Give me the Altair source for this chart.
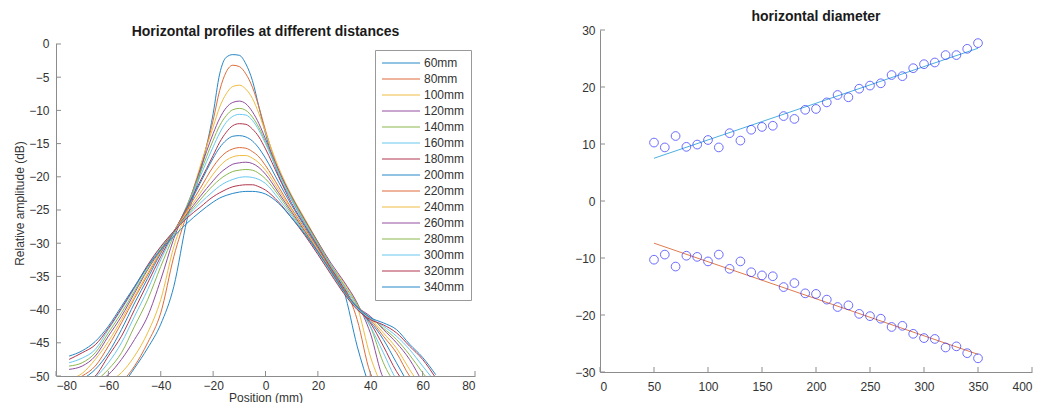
import altair as alt
import pandas as pd

# ---------------- data: left panel (horizontal profiles) ----------------
series_names = ["60mm", "80mm", "100mm", "120mm", "140mm", "160mm", "180mm", "200mm",
                "220mm", "240mm", "260mm", "280mm", "300mm", "320mm", "340mm"]

positions = [-75, -70, -65, -60, -55, -50, -45, -40, -35, -30, -25, -20, -17.5, -15, -12.5,
             -10, -7.5, -5, -2.5, 0, 5, 10, 15, 20, 25, 30, 35, 40, 45, 50, 55, 60, 65]

c60 = [None, None, None, -53, -51.5, -48.8, -45.8, -42.2, -36.5, -26.5, -19.5, -10.5, -4.5, -2.0, -1.6,
       -1.7, -3.0, -5.5, -9.5, -13.5, -19.8, -23.5, -27.0, -30.3, -33.5, -37.3, -45.5, -52, None, None, None, None, None]
c80 = [None, None, None, -53, -51.0, -48.5, -45.0, -40.5, -32.0, -25.5, -18.8, -11.5, -7.0, -4.2, -3.2,
       -3.4, -4.5, -6.5, -9.5, -13.0, -19.0, -23.0, -26.5, -30.0, -33.8, -36.5, -41.5, -49.5, -52, None, None, None, None]
c100 = [None, None, -53, -51.0, -49.5, -47.0, -43.5, -38.5, -30.5, -25.0, -18.5, -12.5, -9.5, -7.5, -6.4,
        -6.2, -6.8, -8.2, -10.5, -13.3, -18.6, -22.8, -26.3, -29.8, -33.3, -36.0, -39.5, -47.0, -52, None, None, None, None]
c120 = [None, -52.5, -51.0, -49.8, -47.5, -44.5, -41.0, -35.5, -29.3, -24.5, -19.0, -13.5, -11.2, -9.6, -8.8,
        -8.6, -9.0, -10.2, -12.0, -14.3, -19.0, -23.0, -26.5, -29.8, -33.0, -35.8, -39.0, -43.5, -50.3, -52, None, None, None]
c140 = [None, -52.0, -50.8, -49.0, -46.5, -42.5, -38.5, -33.5, -28.8, -24.3, -19.5, -14.5, -12.3, -10.8, -9.9,
        -9.7, -10.0, -11.0, -12.6, -14.7, -19.3, -23.2, -26.7, -30.0, -33.3, -36.3, -39.2, -42.5, -48.0, -51.5, None, None, None]
c160 = [None, -51.5, -50.2, -48.0, -45.0, -41.0, -37.0, -32.5, -28.5, -24.5, -20.0, -15.5, -13.4, -11.8, -10.9,
        -10.6, -10.7, -11.5, -13.0, -15.0, -19.5, -23.5, -27.0, -30.3, -33.5, -36.5, -39.5, -42.5, -46.5, -50.5, -52, None, None]
c180 = [-52.0, -51.0, -50.0, -47.0, -44.0, -40.0, -36.0, -32.0, -28.3, -24.6, -20.7, -16.8, -14.8, -13.3, -12.3,
        -12.0, -12.1, -12.8, -14.0, -15.8, -20.0, -24.0, -27.3, -30.5, -33.8, -36.8, -39.8, -42.0, -45.5, -49.3, -52, None, None]
c200 = [-51.5, -50.5, -49.0, -46.5, -43.0, -39.0, -35.3, -31.5, -28.3, -24.8, -21.0, -17.2, -15.6, -14.5, -13.9,
        -13.8, -14.0, -14.6, -15.7, -17.2, -20.8, -24.3, -27.5, -30.7, -34.0, -37.0, -39.8, -41.8, -44.5, -48.0, -51.5, None, None]
c220 = [-51.0, -50.0, -48.5, -45.5, -42.0, -38.3, -34.8, -31.3, -28.2, -25.0, -21.8, -18.5, -17.2, -16.3, -15.8,
        -15.6, -15.7, -16.2, -17.0, -18.3, -21.5, -24.8, -27.8, -30.8, -34.0, -37.0, -39.6, -41.5, -44.0, -46.5, -50.0, -52, None]
c240 = [-50.5, -49.6, -47.5, -44.8, -41.5, -38.0, -34.5, -31.2, -28.2, -25.3, -22.5, -19.6, -18.4, -17.5, -17.0,
        -16.8, -16.8, -17.2, -17.9, -19.0, -22.0, -25.0, -28.0, -31.0, -34.2, -37.2, -39.5, -41.3, -43.5, -45.8, -49.0, -52, None]
c260 = [-49.0, -48.5, -47.0, -44.0, -41.0, -37.5, -34.0, -31.0, -28.2, -25.6, -23.0, -20.6, -19.5, -18.7, -18.1,
        -17.9, -17.8, -18.0, -18.6, -19.6, -22.4, -25.3, -28.2, -31.2, -34.3, -37.3, -39.6, -41.0, -43.0, -45.0, -47.5, -51.0, None]
c280 = [-48.5, -48.0, -46.5, -43.5, -40.5, -37.2, -33.8, -30.8, -28.2, -25.8, -23.5, -21.3, -20.4, -19.7, -19.2,
        -19.0, -18.9, -19.0, -19.5, -20.3, -22.8, -25.6, -28.4, -31.3, -34.4, -37.4, -39.8, -41.2, -42.8, -44.5, -46.8, -49.5, -52]
c300 = [-48.0, -47.3, -46.0, -43.0, -40.0, -36.8, -33.5, -30.6, -28.2, -26.0, -24.0, -22.2, -21.4, -20.8, -20.4,
        -20.1, -20.0, -20.1, -20.4, -21.0, -23.3, -25.9, -28.6, -31.5, -34.5, -37.5, -39.8, -41.3, -42.5, -44.0, -46.0, -48.5, -51]
c320 = [-47.5, -46.5, -45.3, -42.8, -39.8, -36.6, -33.3, -30.5, -28.2, -26.2, -24.6, -23.0, -22.4, -21.9, -21.5,
        -21.3, -21.2, -21.2, -21.5, -22.0, -23.8, -26.2, -28.8, -31.7, -34.7, -37.6, -40.0, -41.5, -42.3, -43.5, -45.5, -47.5, -50.3]
c340 = [-47.0, -46.2, -44.8, -42.5, -39.5, -36.5, -33.5, -31.0, -29.0, -27.0, -25.3, -23.8, -23.2, -22.8, -22.5,
        -22.3, -22.2, -22.2, -22.3, -22.6, -24.0, -26.2, -28.6, -31.3, -34.2, -37.2, -39.6, -41.2, -42.0, -43.0, -45.2, -47.2, -49.8]

curves = [c60, c80, c100, c120, c140, c160, c180, c200, c220, c240, c260, c280, c300, c320, c340]

series_colors = ["#2687C7", "#DE6D3B", "#EFBC41", "#914E9F", "#8BB84F", "#67C8F0", "#B0374E",
                 "#2687C7", "#DE6D3B", "#EFBC41", "#914E9F", "#8BB84F", "#67C8F0", "#B0374E",
                 "#2687C7"]

left_xticks = [-80, -60, -40, -20, 0, 20, 40, 60, 80]
left_yticks = [0, -5, -10, -15, -20, -25, -30, -35, -40, -45, -50]
left_yrange = [-50, 0]

# ---------------- data: right panel (horizontal diameter) ----------------
dist = [50, 60, 70, 80, 90, 100, 110, 120, 130, 140, 150, 160, 170, 180, 190, 200,
        210, 220, 230, 240, 250, 260, 270, 280, 290, 300, 310, 320, 330, 340, 350]
upper_edge = [10.25, 9.4, 11.4, 9.5, 9.9, 10.7, 9.4, 11.9, 10.6, 12.5, 13.0, 13.2, 14.9, 14.4, 16.0, 16.15,
              17.3, 18.6, 18.2, 19.7, 20.25, 20.65, 22.1, 21.9, 23.3, 24.0, 24.3, 25.6, 25.6, 26.7, 27.7]
lower_edge = [-10.3, -9.4, -11.5, -9.6, -9.8, -10.6, -9.4, -11.9, -10.6, -12.5, -13.05, -13.2, -15.1, -14.4, -16.2, -16.3,
              -17.3, -18.6, -18.3, -19.8, -20.2, -20.65, -22.1, -21.9, -23.3, -24.05, -24.2, -25.7, -25.5, -26.7, -27.6]
fit_x = [50, 350]
upper_fit = [7.5, 26.8]
lower_fit = [-7.4, -26.9]

right_xticks = [0, 50, 100, 150, 200, 250, 300, 350, 400]
right_yticks = [-30, -20, -10, 0, 10, 20, 30]

# ---------------- build ----------------
FONT = "Liberation Sans"
AXIS_COLOR = "#8c8c8c"
TEXT_COLOR = "#333333"
W1, H1 = 419, 346      # left plot area; its top 14 px are head-room above 0 dB
W2, H2 = 432, 342

rows = []
for name, vals in zip(series_names, curves):
    for x, v in zip(positions, vals):
        if v is not None:
            rows.append({"Position": x, "Amplitude": v, "Distance": name})
df_prof = pd.DataFrame(rows)

xs1 = alt.Scale(domain=[-80, 80], nice=False, zero=False)
ys1 = alt.Scale(domain=[-50, 2.108], nice=False, zero=False)
xax1 = alt.Axis(values=left_xticks, title="Position (mm)", titlePadding=1, labelPadding=4)
yax1 = alt.Axis(values=left_yticks, title="Relative amplitude (dB)", titlePadding=2, labelPadding=7,
                domain=False)

prof_lines = alt.Chart(df_prof).mark_line(strokeWidth=1, clip=True, interpolate="monotone").encode(
    x=alt.X("Position:Q", scale=xs1, axis=xax1),
    y=alt.Y("Amplitude:Q", scale=ys1, axis=yax1),
    color=alt.Color("Distance:N", sort=series_names,
                    scale=alt.Scale(domain=series_names, range=series_colors),
                    legend=alt.Legend(title=None, orient="none", legendX=319, legendY=20,
                                      symbolType="stroke", symbolSize=1444, symbolStrokeWidth=1.2,
                                      labelFont=FONT, labelFontSize=12, labelColor=TEXT_COLOR,
                                      strokeColor="#999999", fillColor="white", padding=6,
                                      clipHeight=14, rowPadding=2, labelOffset=3)),
    order=alt.Order("Position:Q"),
)

xt1 = alt.Chart(pd.DataFrame({"Position": left_xticks})).mark_rule(color=AXIS_COLOR, strokeWidth=1).encode(
    x=alt.X("Position:Q", scale=xs1, axis=xax1), y=alt.value(H1), y2=alt.value(H1 - 5))
yt1 = alt.Chart(pd.DataFrame({"Amplitude": left_yticks})).mark_rule(color=AXIS_COLOR, strokeWidth=1).encode(
    y=alt.Y("Amplitude:Q", scale=ys1, axis=yax1), x=alt.value(0), x2=alt.value(5))
ydom1 = alt.Chart(pd.DataFrame({"Amplitude": [left_yrange[0]], "top": [left_yrange[1]]})).mark_rule(
    color=AXIS_COLOR, strokeWidth=1).encode(
    y=alt.Y("Amplitude:Q", scale=ys1, axis=yax1), y2="top:Q", x=alt.value(0.5))

left = alt.layer(prof_lines, xt1, yt1, ydom1).properties(
    width=W1, height=H1,
    title=alt.TitleParams("Horizontal profiles at different distances", fontSize=14,
                          fontWeight="bold", font=FONT, color="#1a1a1a", offset=0, dy=9))

df_pts = pd.DataFrame({
    "Distance": dist * 2,
    "Edge": upper_edge + lower_edge,
})
df_fit = pd.DataFrame({
    "Distance": fit_x * 2,
    "Edge": upper_fit + lower_fit,
    "Side": ["upper"] * len(fit_x) + ["lower"] * len(fit_x),
})

xs2 = alt.Scale(domain=[0, 400], nice=False)
ys2 = alt.Scale(domain=[-30, 30], nice=False)
xax2 = alt.Axis(values=right_xticks, title=None)
yax2 = alt.Axis(values=right_yticks, title=None, labelPadding=5)

fit_lines = alt.Chart(df_fit).mark_line(strokeWidth=1).encode(
    x=alt.X("Distance:Q", scale=xs2, axis=xax2),
    y=alt.Y("Edge:Q", scale=ys2, axis=yax2),
    color=alt.Color("Side:N", scale=alt.Scale(domain=["upper", "lower"], range=["#4DB0E0", "#E07B50"]),
                    legend=None),
)
pts = alt.Chart(df_pts).mark_point(shape="circle", filled=False, color="#2e2eff", size=76, strokeWidth=1).encode(
    x=alt.X("Distance:Q", scale=xs2, axis=xax2),
    y=alt.Y("Edge:Q", scale=ys2, axis=yax2),
)
xt2 = alt.Chart(pd.DataFrame({"Distance": right_xticks})).mark_rule(color=AXIS_COLOR, strokeWidth=1).encode(
    x=alt.X("Distance:Q", scale=xs2, axis=xax2), y=alt.value(H2), y2=alt.value(H2 - 5))
yt2 = alt.Chart(pd.DataFrame({"Edge": right_yticks})).mark_rule(color=AXIS_COLOR, strokeWidth=1).encode(
    y=alt.Y("Edge:Q", scale=ys2, axis=yax2), x=alt.value(0), x2=alt.value(5))

right = alt.layer(fit_lines, pts, xt2, yt2).properties(
    width=W2, height=H2,
    title=alt.TitleParams("horizontal diameter", fontSize=14, fontWeight="bold", font=FONT,
                          color="#1a1a1a", offset=0))

chart = alt.hconcat(left, right, spacing=98).properties(
    padding={"left": 5, "top": 2, "right": 0, "bottom": 0}
).configure_view(stroke=None).configure_axis(
    labelFont=FONT, labelFontSize=12, labelColor=TEXT_COLOR,
    titleFont=FONT, titleFontSize=12, titleColor=TEXT_COLOR, titleFontWeight="normal",
    domainColor=AXIS_COLOR, ticks=False, grid=False, labelPadding=9,
).resolve_scale(color="independent")

chart.save("out.html", embed_options={"renderer": "svg", "actions": False})
